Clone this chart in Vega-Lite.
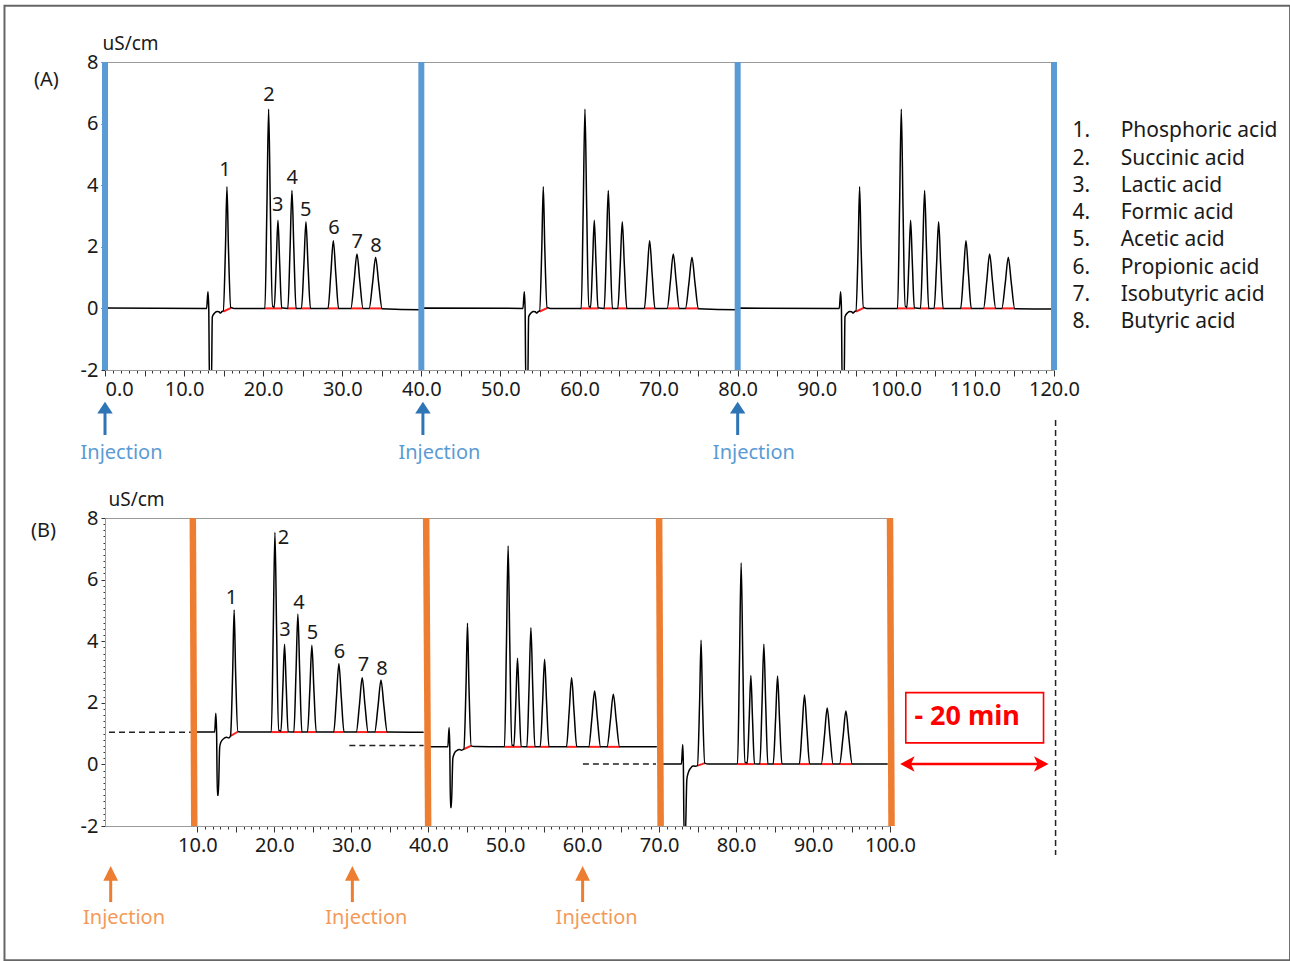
{
  "$schema": "https://vega.github.io/schema/vega-lite/v6.json",
  "bounds": "flush",
  "spacing": 148,
  "padding": {"left": 2, "top": 4, "right": 0, "bottom": 0},
  "background": "white",
  "config": {
    "font": "Noto Sans",
    "view": {"stroke": "#9a9a9a", "strokeWidth": 1},
    "axis": {"grid": false, "domainColor": "#9a9a9a", "tickColor": "#333333", "labelColor": "#1a1a1a", "labelFont": "Noto Sans", "labelFontSize": 20, "titleFont": "Noto Sans", "titleFontSize": 19, "titleFontWeight": "normal", "titleColor": "#1a1a1a", "labelOverlap": false, "labelBound": false, "labelFlush": false},
    "text": {"font": "Noto Sans"}
  },
  "datasets": {
    "lineA": [
      {"x":0.0,"y":0.01},{"x":12.85,"y":0.0},{"x":13.02,"y":0.54},{"x":13.12,"y":0.0},{"x":13.22,"y":-2.6},{"x":13.45,"y":-2.6},{"x":13.57,"y":-0.27},{"x":13.9,"y":-0.14},{"x":14.2,"y":-0.1},{"x":14.41,"y":-0.11},{"x":14.6,"y":-0.15},{"x":14.8,"y":-0.1},{"x":14.95,"y":-0.09},{"x":15.23,"y":1.93},{"x":15.42,"y":3.95},{"x":15.61,"y":1.96},{"x":15.9,"y":0.03},{"x":16.3,"y":0.0},{"x":20.22,"y":0.0},{"x":20.47,"y":3.24},{"x":20.69,"y":6.47},{"x":20.91,"y":3.24},{"x":21.16,"y":0.06},{"x":21.3,"y":0.06},{"x":21.4,"y":0.03},{"x":21.65,"y":1.45},{"x":21.87,"y":2.86},{"x":22.09,"y":1.45},{"x":22.34,"y":0.02},{"x":23.12,"y":0.0},{"x":23.4,"y":1.92},{"x":23.64,"y":3.83},{"x":23.88,"y":1.92},{"x":24.16,"y":0.0},{"x":24.84,"y":0.0},{"x":25.15,"y":1.41},{"x":25.41,"y":2.81},{"x":25.67,"y":1.41},{"x":25.98,"y":0.0},{"x":28.2,"y":0.0},{"x":28.55,"y":1.1},{"x":28.87,"y":2.2},{"x":29.19,"y":1.1},{"x":29.54,"y":0.0},{"x":31.09,"y":0.0},{"x":31.5,"y":0.89},{"x":31.86,"y":1.77},{"x":32.22,"y":0.89},{"x":32.63,"y":0.0},{"x":33.4,"y":0.0},{"x":33.84,"y":0.83},{"x":34.22,"y":1.66},{"x":34.6,"y":0.83},{"x":35.04,"y":-0.01},{"x":39.9,"y":-0.04},
      {"x":40.1,"y":0.01},{"x":52.85,"y":0.0},{"x":53.02,"y":0.54},{"x":53.12,"y":0.0},{"x":53.22,"y":-2.6},{"x":53.45,"y":-2.6},{"x":53.57,"y":-0.27},{"x":53.9,"y":-0.14},{"x":54.2,"y":-0.1},{"x":54.41,"y":-0.11},{"x":54.6,"y":-0.15},{"x":54.8,"y":-0.1},{"x":54.95,"y":-0.09},{"x":55.23,"y":1.93},{"x":55.42,"y":3.95},{"x":55.61,"y":1.96},{"x":55.9,"y":0.03},{"x":56.3,"y":0.0},{"x":60.22,"y":0.0},{"x":60.47,"y":3.24},{"x":60.69,"y":6.47},{"x":60.91,"y":3.24},{"x":61.16,"y":0.06},{"x":61.3,"y":0.06},{"x":61.4,"y":0.03},{"x":61.65,"y":1.45},{"x":61.87,"y":2.86},{"x":62.09,"y":1.45},{"x":62.34,"y":0.02},{"x":63.12,"y":0.0},{"x":63.4,"y":1.92},{"x":63.64,"y":3.83},{"x":63.88,"y":1.92},{"x":64.16,"y":0.0},{"x":64.84,"y":0.0},{"x":65.15,"y":1.41},{"x":65.41,"y":2.81},{"x":65.67,"y":1.41},{"x":65.98,"y":0.0},{"x":68.2,"y":0.0},{"x":68.55,"y":1.1},{"x":68.87,"y":2.2},{"x":69.19,"y":1.1},{"x":69.54,"y":0.0},{"x":71.09,"y":0.0},{"x":71.5,"y":0.89},{"x":71.86,"y":1.77},{"x":72.22,"y":0.89},{"x":72.63,"y":0.0},{"x":73.4,"y":0.0},{"x":73.84,"y":0.83},{"x":74.22,"y":1.66},{"x":74.6,"y":0.83},{"x":75.04,"y":-0.01},{"x":79.9,"y":-0.04},
      {"x":80.1,"y":0.01},{"x":92.85,"y":0.0},{"x":93.02,"y":0.54},{"x":93.12,"y":0.0},{"x":93.22,"y":-2.6},{"x":93.45,"y":-2.6},{"x":93.57,"y":-0.27},{"x":93.9,"y":-0.14},{"x":94.2,"y":-0.1},{"x":94.41,"y":-0.11},{"x":94.6,"y":-0.15},{"x":94.8,"y":-0.1},{"x":94.95,"y":-0.09},{"x":95.23,"y":1.93},{"x":95.42,"y":3.95},{"x":95.61,"y":1.96},{"x":95.9,"y":0.03},{"x":96.3,"y":0.0},{"x":100.22,"y":0.0},{"x":100.47,"y":3.24},{"x":100.69,"y":6.47},{"x":100.91,"y":3.24},{"x":101.16,"y":0.06},{"x":101.3,"y":0.06},{"x":101.4,"y":0.03},{"x":101.65,"y":1.45},{"x":101.87,"y":2.86},{"x":102.09,"y":1.45},{"x":102.34,"y":0.02},{"x":103.12,"y":0.0},{"x":103.4,"y":1.92},{"x":103.64,"y":3.83},{"x":103.88,"y":1.92},{"x":104.16,"y":0.0},{"x":104.84,"y":0.0},{"x":105.15,"y":1.41},{"x":105.41,"y":2.81},{"x":105.67,"y":1.41},{"x":105.98,"y":0.0},{"x":108.2,"y":0.0},{"x":108.55,"y":1.1},{"x":108.87,"y":2.2},{"x":109.19,"y":1.1},{"x":109.54,"y":0.0},{"x":111.09,"y":0.0},{"x":111.5,"y":0.89},{"x":111.86,"y":1.77},{"x":112.22,"y":0.89},{"x":112.63,"y":0.0},{"x":113.4,"y":0.0},{"x":113.84,"y":0.83},{"x":114.22,"y":1.66},{"x":114.6,"y":0.83},{"x":115.04,"y":-0.01},{"x":119.7,"y":-0.02}
    ],
    "redA": [
      {"x":14.97,"y":-0.1,"x2":15.95,"y2":0.02},{"x":20.2,"y":0,"x2":22.4,"y2":0},{"x":23.1,"y":0,"x2":24.2,"y2":0},{"x":24.85,"y":0,"x2":26.0,"y2":0},{"x":28.2,"y":0,"x2":29.55,"y2":0},{"x":31.1,"y":0,"x2":32.65,"y2":0},{"x":33.4,"y":0,"x2":35.05,"y2":0},
      {"x":54.97,"y":-0.1,"x2":55.95,"y2":0.02},{"x":60.2,"y":0,"x2":62.4,"y2":0},{"x":63.1,"y":0,"x2":64.2,"y2":0},{"x":64.85,"y":0,"x2":66.0,"y2":0},{"x":68.2,"y":0,"x2":69.55,"y2":0},{"x":71.1,"y":0,"x2":72.65,"y2":0},{"x":73.4,"y":0,"x2":75.05,"y2":0},
      {"x":94.97,"y":-0.1,"x2":95.95,"y2":0.02},{"x":100.2,"y":0,"x2":102.4,"y2":0},{"x":103.1,"y":0,"x2":104.2,"y2":0},{"x":104.85,"y":0,"x2":106.0,"y2":0},{"x":108.2,"y":0,"x2":109.55,"y2":0},{"x":111.1,"y":0,"x2":112.65,"y2":0},{"x":113.4,"y":0,"x2":115.05,"y2":0}
    ],
    "barsA": [{"x":0,"y":-2,"y2":8},{"x":40,"y":-2,"y2":8},{"x":80,"y":-2,"y2":8},{"x":120,"y":-2,"y2":8}],
    "labelsA": [
      {"x":15.17,"y":4.49,"t":"1"},{"x":20.73,"y":6.93,"t":"2"},{"x":21.83,"y":3.36,"t":"3"},{"x":23.68,"y":4.22,"t":"4"},{"x":25.37,"y":3.19,"t":"5"},{"x":28.95,"y":2.6,"t":"6"},{"x":31.9,"y":2.15,"t":"7"},{"x":34.26,"y":2.04,"t":"8"}
    ],
    "legendNum": [
      {"x":122.33,"y":5.76,"t":"1."},{"x":122.33,"y":4.85,"t":"2."},{"x":122.33,"y":3.97,"t":"3."},{"x":122.33,"y":3.09,"t":"4."},{"x":122.33,"y":2.22,"t":"5."},{"x":122.33,"y":1.32,"t":"6."},{"x":122.33,"y":0.44,"t":"7."},{"x":122.33,"y":-0.43,"t":"8."}
    ],
    "legendName": [
      {"x":128.43,"y":5.76,"t":"Phosphoric acid"},{"x":128.43,"y":4.85,"t":"Succinic acid"},{"x":128.43,"y":3.97,"t":"Lactic acid"},{"x":128.43,"y":3.09,"t":"Formic acid"},{"x":128.43,"y":2.22,"t":"Acetic acid"},{"x":128.43,"y":1.32,"t":"Propionic acid"},{"x":128.43,"y":0.44,"t":"Isobutyric acid"},{"x":128.43,"y":-0.43,"t":"Butyric acid"}
    ],
    "panelA": [{"x":-7.4,"y":7.42,"t":"(A)"}],
    "injTextA": [{"x":2.09,"y":-4.69,"t":"Injection"},{"x":42.29,"y":-4.69,"t":"Injection"},{"x":82.05,"y":-4.69,"t":"Injection"}],
    "injShaftA": [{"x":0,"y":-3.35,"y2":-4.11},{"x":40.2,"y":-3.35,"y2":-4.11},{"x":80.0,"y":-3.35,"y2":-4.11}],
    "injHeadA": [{"x":0,"y":-3.22},{"x":40.2,"y":-3.22},{"x":80.0,"y":-3.22}],
    "frame": [{"x":-12.71,"x2":149.85,"y":9.83,"y2":-21.16}],
    "vdash": [{"x":120.2,"y":-3.62,"y2":-17.75}],
    "lineB": [
      {"seg":1,"x":9.5,"y":1.05},{"seg":1,"x":12.25,"y":1.05},{"seg":1,"x":12.4,"y":1.66},{"seg":1,"x":12.5,"y":1.05},{"seg":1,"x":12.6,"y":-1.0},{"seg":1,"x":12.72,"y":-1.0},{"seg":1,"x":12.9,"y":0.55},{"seg":1,"x":13.05,"y":0.72},{"seg":1,"x":13.5,"y":0.85},{"seg":1,"x":13.8,"y":0.88},{"seg":1,"x":14.1,"y":0.86},{"seg":1,"x":14.31,"y":0.93},{"seg":1,"x":14.59,"y":3.0},{"seg":1,"x":14.78,"y":5.01},{"seg":1,"x":14.97,"y":3.0},{"seg":1,"x":15.26,"y":1.07},{"seg":1,"x":15.8,"y":1.05},{"seg":1,"x":19.61,"y":1.05},{"seg":1,"x":19.86,"y":4.3},{"seg":1,"x":20.08,"y":7.54},{"seg":1,"x":20.3,"y":4.3},{"seg":1,"x":20.55,"y":1.1},{"seg":1,"x":20.7,"y":1.1},{"seg":1,"x":20.86,"y":1.08},{"seg":1,"x":21.11,"y":2.5},{"seg":1,"x":21.33,"y":3.9},{"seg":1,"x":21.55,"y":2.5},{"seg":1,"x":21.8,"y":1.06},{"seg":1,"x":22.54,"y":1.05},{"seg":1,"x":22.82,"y":3.0},{"seg":1,"x":23.06,"y":4.88},{"seg":1,"x":23.3,"y":3.0},{"seg":1,"x":23.58,"y":1.05},{"seg":1,"x":24.31,"y":1.05},{"seg":1,"x":24.62,"y":2.45},{"seg":1,"x":24.88,"y":3.87},{"seg":1,"x":25.14,"y":2.45},{"seg":1,"x":25.45,"y":1.05},{"seg":1,"x":27.72,"y":1.05},{"seg":1,"x":28.07,"y":2.15},{"seg":1,"x":28.39,"y":3.27},{"seg":1,"x":28.71,"y":2.15},{"seg":1,"x":29.06,"y":1.05},{"seg":1,"x":30.65,"y":1.05},{"seg":1,"x":31.06,"y":1.93},{"seg":1,"x":31.42,"y":2.81},{"seg":1,"x":31.78,"y":1.93},{"seg":1,"x":32.19,"y":1.05},{"seg":1,"x":33.04,"y":1.05},{"seg":1,"x":33.48,"y":1.9},{"seg":1,"x":33.86,"y":2.74},{"seg":1,"x":34.24,"y":1.9},{"seg":1,"x":34.68,"y":1.05},{"seg":1,"x":39.4,"y":1.04},
      {"seg":2,"x":40.0,"y":0.57},{"seg":2,"x":42.55,"y":0.57},{"seg":2,"x":42.71,"y":1.2},{"seg":2,"x":42.8,"y":0.57},{"seg":2,"x":42.89,"y":-1.4},{"seg":2,"x":43.0,"y":-1.4},{"seg":2,"x":43.2,"y":0.2},{"seg":2,"x":43.4,"y":0.36},{"seg":2,"x":43.7,"y":0.45},{"seg":2,"x":44.06,"y":0.48},{"seg":2,"x":44.3,"y":0.46},{"seg":2,"x":44.63,"y":0.5},{"seg":2,"x":44.91,"y":2.55},{"seg":2,"x":45.1,"y":4.58},{"seg":2,"x":45.29,"y":2.55},{"seg":2,"x":45.58,"y":0.6},{"seg":2,"x":46.0,"y":0.58},{"seg":2,"x":49.91,"y":0.57},{"seg":2,"x":50.16,"y":3.85},{"seg":2,"x":50.38,"y":7.1},{"seg":2,"x":50.6,"y":3.85},{"seg":2,"x":50.85,"y":0.62},{"seg":2,"x":51.0,"y":0.62},{"seg":2,"x":51.13,"y":0.6},{"seg":2,"x":51.38,"y":2.0},{"seg":2,"x":51.6,"y":3.45},{"seg":2,"x":51.82,"y":2.0},{"seg":2,"x":52.07,"y":0.58},{"seg":2,"x":52.82,"y":0.57},{"seg":2,"x":53.1,"y":2.5},{"seg":2,"x":53.34,"y":4.44},{"seg":2,"x":53.58,"y":2.5},{"seg":2,"x":53.86,"y":0.57},{"seg":2,"x":54.55,"y":0.57},{"seg":2,"x":54.86,"y":2.0},{"seg":2,"x":55.12,"y":3.41},{"seg":2,"x":55.38,"y":2.0},{"seg":2,"x":55.69,"y":0.57},{"seg":2,"x":57.96,"y":0.57},{"seg":2,"x":58.31,"y":1.7},{"seg":2,"x":58.63,"y":2.81},{"seg":2,"x":58.95,"y":1.7},{"seg":2,"x":59.3,"y":0.57},{"seg":2,"x":60.85,"y":0.57},{"seg":2,"x":61.26,"y":1.48},{"seg":2,"x":61.62,"y":2.38},{"seg":2,"x":61.98,"y":1.48},{"seg":2,"x":62.39,"y":0.57},{"seg":2,"x":63.23,"y":0.57},{"seg":2,"x":63.67,"y":1.43},{"seg":2,"x":64.05,"y":2.28},{"seg":2,"x":64.43,"y":1.43},{"seg":2,"x":64.87,"y":0.57},{"seg":2,"x":69.7,"y":0.57},
      {"seg":3,"x":70.3,"y":0.01},{"seg":3,"x":72.9,"y":0.01},{"seg":3,"x":73.07,"y":0.65},{"seg":3,"x":73.15,"y":0.01},{"seg":3,"x":73.25,"y":-2.4},{"seg":3,"x":73.4,"y":-2.4},{"seg":3,"x":73.6,"y":-0.5},{"seg":3,"x":73.76,"y":-0.29},{"seg":3,"x":74.1,"y":-0.12},{"seg":3,"x":74.4,"y":-0.05},{"seg":3,"x":74.7,"y":-0.06},{"seg":3,"x":74.98,"y":-0.04},{"seg":3,"x":75.26,"y":2.0},{"seg":3,"x":75.45,"y":4.03},{"seg":3,"x":75.64,"y":2.0},{"seg":3,"x":75.93,"y":0.04},{"seg":3,"x":76.4,"y":0.01},{"seg":3,"x":80.19,"y":0.01},{"seg":3,"x":80.44,"y":3.3},{"seg":3,"x":80.66,"y":6.55},{"seg":3,"x":80.88,"y":3.3},{"seg":3,"x":81.13,"y":0.06},{"seg":3,"x":81.3,"y":0.06},{"seg":3,"x":81.45,"y":0.04},{"seg":3,"x":81.7,"y":1.45},{"seg":3,"x":81.92,"y":2.89},{"seg":3,"x":82.14,"y":1.45},{"seg":3,"x":82.39,"y":0.02},{"seg":3,"x":83.09,"y":0.01},{"seg":3,"x":83.37,"y":1.95},{"seg":3,"x":83.61,"y":3.9},{"seg":3,"x":83.85,"y":1.95},{"seg":3,"x":84.13,"y":0.01},{"seg":3,"x":84.82,"y":0.01},{"seg":3,"x":85.13,"y":1.44},{"seg":3,"x":85.39,"y":2.87},{"seg":3,"x":85.65,"y":1.44},{"seg":3,"x":85.96,"y":0.01},{"seg":3,"x":88.22,"y":0.01},{"seg":3,"x":88.57,"y":1.13},{"seg":3,"x":88.89,"y":2.25},{"seg":3,"x":89.21,"y":1.13},{"seg":3,"x":89.56,"y":0.01},{"seg":3,"x":91.07,"y":0.01},{"seg":3,"x":91.48,"y":0.92},{"seg":3,"x":91.84,"y":1.83},{"seg":3,"x":92.2,"y":0.92},{"seg":3,"x":92.61,"y":0.01},{"seg":3,"x":93.45,"y":0.01},{"seg":3,"x":93.89,"y":0.87},{"seg":3,"x":94.27,"y":1.73},{"seg":3,"x":94.65,"y":0.87},{"seg":3,"x":95.09,"y":0.01},{"seg":3,"x":99.7,"y":0.01}
    ],
    "redB": [
      {"x":14.33,"y":0.93,"x2":15.25,"y2":1.06},{"x":19.6,"y":1.05,"x2":21.8,"y2":1.05},{"x":22.55,"y":1.05,"x2":23.6,"y2":1.05},{"x":24.3,"y":1.05,"x2":25.45,"y2":1.05},{"x":27.7,"y":1.05,"x2":29.05,"y2":1.05},{"x":30.65,"y":1.05,"x2":32.2,"y2":1.05},{"x":33.05,"y":1.05,"x2":34.7,"y2":1.05},
      {"x":44.65,"y":0.5,"x2":45.55,"y2":0.6},{"x":49.9,"y":0.57,"x2":52.1,"y2":0.57},{"x":52.8,"y":0.57,"x2":53.85,"y2":0.57},{"x":54.55,"y":0.57,"x2":55.7,"y2":0.57},{"x":57.95,"y":0.57,"x2":59.3,"y2":0.57},{"x":60.85,"y":0.57,"x2":62.4,"y2":0.57},{"x":63.2,"y":0.57,"x2":64.9,"y2":0.57},
      {"x":75.0,"y":-0.04,"x2":75.95,"y2":0.04},{"x":80.2,"y":0.01,"x2":82.4,"y2":0.01},{"x":83.1,"y":0.01,"x2":84.15,"y2":0.01},{"x":84.8,"y":0.01,"x2":85.95,"y2":0.01},{"x":88.2,"y":0.01,"x2":89.55,"y2":0.01},{"x":91.05,"y":0.01,"x2":92.6,"y2":0.01},{"x":93.45,"y":0.01,"x2":95.1,"y2":0.01}
    ],
    "barsB": [{"x":9.41,"y":8,"x2":9.6,"y2":-2},{"x":39.73,"y":8,"x2":39.99,"y2":-2},{"x":70.0,"y":8,"x2":70.2,"y2":-2},{"x":100.0,"y":8,"x2":100.2,"y2":-2}],
    "dashB": [{"x":-1.48,"x2":9.32,"y":1.04},{"x":29.75,"x2":39.4,"y":0.61},{"x":60.1,"x2":69.6,"y":0.01}],
    "labelsB": [
      {"x":14.43,"y":5.39,"t":"1"},{"x":21.2,"y":7.34,"t":"2"},{"x":21.38,"y":4.36,"t":"3"},{"x":23.2,"y":5.25,"t":"4"},{"x":24.97,"y":4.26,"t":"5"},{"x":28.48,"y":3.64,"t":"6"},{"x":31.57,"y":3.23,"t":"7"},{"x":34.0,"y":3.1,"t":"8"}
    ],
    "panelB": [{"x":-10.0,"y":7.58,"t":"(B)"}],
    "injTextB": [{"x":0.47,"y":-4.99,"t":"Injection"},{"x":31.96,"y":-4.99,"t":"Injection"},{"x":61.88,"y":-4.99,"t":"Injection"}],
    "injShaftB": [{"x":-1.26,"y":-3.72,"y2":-4.47},{"x":30.14,"y":-3.72,"y2":-4.47},{"x":60.06,"y":-3.72,"y2":-4.47}],
    "injHeadB": [{"x":-1.26,"y":-3.54},{"x":30.14,"y":-3.54},{"x":60.06,"y":-3.54}],
    "box": [{"x":102.05,"x2":119.95,"y":2.33,"y2":0.7}],
    "boxText": [{"x":103.17,"y":1.53,"t":"- 20 min"}],
    "redShaft": [{"x":102.3,"x2":119.6,"y":0.013}],
    "redHeadL": [{"x":102.26,"y":0.013}],
    "redHeadR": [{"x":119.65,"y":0.013}]
  },
  "vconcat": [
    {
      "width": 949,
      "height": 308,
      "encoding": {
        "x": {"field": "x", "type": "quantitative", "scale": {"domain": [0, 120], "nice": false, "zero": false},
          "axis": {"title": null,
            "values": [0,1,2,3,4,5,6,7,8,9,10,11,12,13,14,15,16,17,18,19,20,21,22,23,24,25,26,27,28,29,30,31,32,33,34,35,36,37,38,39,40,41,42,43,44,45,46,47,48,49,50,51,52,53,54,55,56,57,58,59,60,61,62,63,64,65,66,67,68,69,70,71,72,73,74,75,76,77,78,79,80,81,82,83,84,85,86,87,88,89,90,91,92,93,94,95,96,97,98,99,100,101,102,103,104,105,106,107,108,109,110,111,112,113,114,115,116,117,118,119,120],
            "labelExpr": "datum.value % 10 === 0 ? format(datum.value, '.1f') : ''",
            "tickSize": {"condition": {"test": "datum.value % 5 === 0", "value": 6}, "value": 3},
            "labelAlign": {"condition": {"test": "datum.value === 0", "value": "left"}, "value": "center"},
            "labelPadding": 3}},
        "y": {"field": "y", "type": "quantitative", "scale": {"domain": [-2, 8], "nice": false, "zero": false},
          "axis": {"title": "uS/cm", "titleAngle": 0, "titleAlign": "left", "titleBaseline": "alphabetic", "titleX": -3, "titleY": -13,
            "values": [-2,-1.8,-1.6,-1.4,-1.2,-1,-0.8,-0.6,-0.4,-0.2,0,0.2,0.4,0.6,0.8,1,1.2,1.4,1.6,1.8,2,2.2,2.4,2.6,2.8,3,3.2,3.4,3.6,3.8,4,4.2,4.4,4.6,4.8,5,5.2,5.4,5.6,5.8,6,6.2,6.4,6.6,6.8,7,7.2,7.4,7.6,7.8,8],
            "labelExpr": "datum.value % 2 === 0 ? '' + datum.value : ''",
            "tickSize": {"condition": {"test": "datum.value % 2 === 0", "value": 4}, "value": 2},
            "labelPadding": 3}}
      },
      "layer": [
        {"data": {"name": "frame"}, "mark": {"type": "rect", "fill": "transparent", "stroke": "#666666", "strokeWidth": 2}, "encoding": {"x2": {"field": "x2"}, "y2": {"field": "y2"}}},
        {"data": {"name": "redA"}, "mark": {"type": "rule", "color": "#ff2020", "strokeWidth": 2}, "encoding": {"x2": {"field": "x2"}, "y2": {"field": "y2"}}},
        {"data": {"name": "lineA"}, "mark": {"type": "line", "color": "#000000", "strokeWidth": 1.5, "interpolate": "monotone", "clip": true}, "encoding": {}},
        {"data": {"name": "barsA"}, "mark": {"type": "rule", "color": "#5B9BD5", "strokeWidth": 6}, "encoding": {"y2": {"field": "y2"}}},
        {"data": {"name": "labelsA"}, "mark": {"type": "text", "fontSize": 20, "color": "#1a1a1a", "baseline": "middle", "align": "center"}, "encoding": {"text": {"field": "t"}}},
        {"data": {"name": "legendNum"}, "mark": {"type": "text", "fontSize": 21, "color": "#1a1a1a", "baseline": "middle", "align": "left"}, "encoding": {"text": {"field": "t"}}},
        {"data": {"name": "legendName"}, "mark": {"type": "text", "fontSize": 21, "color": "#1a1a1a", "baseline": "middle", "align": "left"}, "encoding": {"text": {"field": "t"}}},
        {"data": {"name": "panelA"}, "mark": {"type": "text", "fontSize": 20, "color": "#1a1a1a", "baseline": "middle", "align": "center"}, "encoding": {"text": {"field": "t"}}},
        {"data": {"name": "injShaftA"}, "mark": {"type": "rule", "color": "#2E75B6", "strokeWidth": 3}, "encoding": {"y2": {"field": "y2"}}},
        {"data": {"name": "injHeadA"}, "mark": {"type": "point", "shape": "M 0 -0.75 L 1 0.75 L -1 0.75 Z", "size": 240, "filled": true, "color": "#2E75B6", "opacity": 1}, "encoding": {}},
        {"data": {"name": "injTextA"}, "mark": {"type": "text", "fontSize": 20, "color": "#5B9BD5", "baseline": "middle", "align": "center"}, "encoding": {"text": {"field": "t"}}},
        {"data": {"name": "vdash"}, "mark": {"type": "rule", "color": "#222222", "strokeWidth": 1.5, "strokeDash": [6, 4]}, "encoding": {"y2": {"field": "y2"}}}
      ]
    },
    {
      "width": 785,
      "height": 308,
      "encoding": {
        "x": {"field": "x", "type": "quantitative", "scale": {"domain": [-2, 100], "nice": false, "zero": false},
          "axis": {"title": null,
            "values": [10,11,12,13,14,15,16,17,18,19,20,21,22,23,24,25,26,27,28,29,30,31,32,33,34,35,36,37,38,39,40,41,42,43,44,45,46,47,48,49,50,51,52,53,54,55,56,57,58,59,60,61,62,63,64,65,66,67,68,69,70,71,72,73,74,75,76,77,78,79,80,81,82,83,84,85,86,87,88,89,90,91,92,93,94,95,96,97,98,99,100],
            "labelExpr": "datum.value % 10 === 0 ? format(datum.value, '.1f') : ''",
            "tickSize": {"condition": {"test": "datum.value % 5 === 0", "value": 6}, "value": 3},
            "labelPadding": 3}},
        "y": {"field": "y", "type": "quantitative", "scale": {"domain": [-2, 8], "nice": false, "zero": false},
          "axis": {"title": "uS/cm", "titleAngle": 0, "titleAlign": "left", "titleBaseline": "alphabetic", "titleX": 3, "titleY": -13,
            "values": [-2,-1.8,-1.6,-1.4,-1.2,-1,-0.8,-0.6,-0.4,-0.2,0,0.2,0.4,0.6,0.8,1,1.2,1.4,1.6,1.8,2,2.2,2.4,2.6,2.8,3,3.2,3.4,3.6,3.8,4,4.2,4.4,4.6,4.8,5,5.2,5.4,5.6,5.8,6,6.2,6.4,6.6,6.8,7,7.2,7.4,7.6,7.8,8],
            "labelExpr": "datum.value % 2 === 0 ? '' + datum.value : ''",
            "tickSize": {"condition": {"test": "datum.value % 2 === 0", "value": 4}, "value": 2},
            "labelPadding": 3}}
      },
      "layer": [
        {"data": {"name": "redB"}, "mark": {"type": "rule", "color": "#ff2020", "strokeWidth": 2}, "encoding": {"x2": {"field": "x2"}, "y2": {"field": "y2"}}},
        {"data": {"name": "dashB"}, "mark": {"type": "rule", "color": "#222222", "strokeWidth": 1.5, "strokeDash": [6, 4]}, "encoding": {"x2": {"field": "x2"}}},
        {"data": {"name": "lineB"}, "mark": {"type": "line", "color": "#000000", "strokeWidth": 1.5, "interpolate": "monotone", "clip": true}, "encoding": {"detail": {"field": "seg", "type": "nominal"}}},
        {"data": {"name": "barsB"}, "mark": {"type": "rule", "color": "#ED7D31", "strokeWidth": 6.5}, "encoding": {"x2": {"field": "x2"}, "y2": {"field": "y2"}}},
        {"data": {"name": "labelsB"}, "mark": {"type": "text", "fontSize": 20, "color": "#1a1a1a", "baseline": "middle", "align": "center"}, "encoding": {"text": {"field": "t"}}},
        {"data": {"name": "panelB"}, "mark": {"type": "text", "fontSize": 20, "color": "#1a1a1a", "baseline": "middle", "align": "center"}, "encoding": {"text": {"field": "t"}}},
        {"data": {"name": "injShaftB"}, "mark": {"type": "rule", "color": "#ED7D31", "strokeWidth": 3}, "encoding": {"y2": {"field": "y2"}}},
        {"data": {"name": "injHeadB"}, "mark": {"type": "point", "shape": "M 0 -1 L 1 1 L -1 1 Z", "size": 216, "filled": true, "color": "#ED7D31", "opacity": 1}, "encoding": {}},
        {"data": {"name": "injTextB"}, "mark": {"type": "text", "fontSize": 20, "color": "#F39A5A", "baseline": "middle", "align": "center"}, "encoding": {"text": {"field": "t"}}},
        {"data": {"name": "box"}, "mark": {"type": "rect", "fill": "transparent", "stroke": "#ff0000", "strokeWidth": 1.6}, "encoding": {"x2": {"field": "x2"}, "y2": {"field": "y2"}}},
        {"data": {"name": "boxText"}, "mark": {"type": "text", "fontSize": 27, "fontWeight": "bold", "color": "#ff0000", "baseline": "middle", "align": "left"}, "encoding": {"text": {"field": "t"}}},
        {"data": {"name": "redShaft"}, "mark": {"type": "rule", "color": "#ff0000", "strokeWidth": 2.5}, "encoding": {"x2": {"field": "x2"}}},
        {"data": {"name": "redHeadL"}, "mark": {"type": "point", "shape": "M -1 0 L 1 -1.08 L 0.5 0 L 1 1.08 Z", "size": 210, "filled": true, "color": "#ff0000", "opacity": 1}, "encoding": {}},
        {"data": {"name": "redHeadR"}, "mark": {"type": "point", "shape": "M 1 0 L -1 -1.08 L -0.5 0 L -1 1.08 Z", "size": 210, "filled": true, "color": "#ff0000", "opacity": 1}, "encoding": {}}
      ]
    }
  ]
}
